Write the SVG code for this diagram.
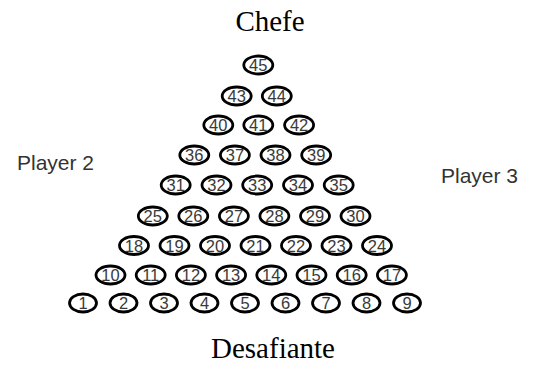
<svg xmlns="http://www.w3.org/2000/svg" width="533" height="365" viewBox="0 0 533 365">
<style>
.n ellipse{fill:#fff;stroke:#000;stroke-width:2.8}
.n text{font-family:"Liberation Sans",Arial,sans-serif;font-size:16.5px;fill:#3a3a3a;text-anchor:middle}
.t{font-family:"Liberation Serif","Times New Roman",serif;font-size:29px;fill:#000;text-anchor:middle}
.p{font-family:"Liberation Sans",Arial,sans-serif;font-size:21px;fill:#333}
</style>
<rect width="533" height="365" fill="#fff"/>
<text class="t" x="270" y="31">Chefe</text>
<text class="t" x="273" y="358">Desafiante</text>
<text class="p" x="17" y="170">Player 2</text>
<text class="p" x="441" y="183">Player 3</text>
<g id="connectors"></g>
<g id="n1" class="n"><ellipse cx="83" cy="303" rx="13.5" ry="9"/><text x="83" y="309">1</text></g>
<g id="n2" class="n"><ellipse cx="123.5" cy="303" rx="13.5" ry="9"/><text x="123.5" y="309">2</text></g>
<g id="n3" class="n"><ellipse cx="164" cy="303" rx="13.5" ry="9"/><text x="164" y="309">3</text></g>
<g id="n4" class="n"><ellipse cx="204.5" cy="303" rx="13.5" ry="9"/><text x="204.5" y="309">4</text></g>
<g id="n5" class="n"><ellipse cx="245" cy="303" rx="13.5" ry="9"/><text x="245" y="309">5</text></g>
<g id="n6" class="n"><ellipse cx="285.5" cy="303" rx="13.5" ry="9"/><text x="285.5" y="309">6</text></g>
<g id="n7" class="n"><ellipse cx="326" cy="303" rx="13.5" ry="9"/><text x="326" y="309">7</text></g>
<g id="n8" class="n"><ellipse cx="366.5" cy="303" rx="13.5" ry="9"/><text x="366.5" y="309">8</text></g>
<g id="n9" class="n"><ellipse cx="407" cy="303" rx="13.5" ry="9"/><text x="407" y="309">9</text></g>
<g id="n10" class="n"><ellipse cx="110.5" cy="275" rx="14.5" ry="9"/><text x="110.5" y="281">10</text></g>
<g id="n11" class="n"><ellipse cx="150.7" cy="275" rx="14.5" ry="9"/><text x="150.7" y="281">11</text></g>
<g id="n12" class="n"><ellipse cx="190.9" cy="275" rx="14.5" ry="9"/><text x="190.9" y="281">12</text></g>
<g id="n13" class="n"><ellipse cx="231.1" cy="275" rx="14.5" ry="9"/><text x="231.1" y="281">13</text></g>
<g id="n14" class="n"><ellipse cx="271.3" cy="275" rx="14.5" ry="9"/><text x="271.3" y="281">14</text></g>
<g id="n15" class="n"><ellipse cx="311.5" cy="275" rx="14.5" ry="9"/><text x="311.5" y="281">15</text></g>
<g id="n16" class="n"><ellipse cx="351.7" cy="275" rx="14.5" ry="9"/><text x="351.7" y="281">16</text></g>
<g id="n17" class="n"><ellipse cx="391.9" cy="275" rx="14.5" ry="9"/><text x="391.9" y="281">17</text></g>
<g id="n18" class="n"><ellipse cx="134" cy="245.5" rx="14.5" ry="9"/><text x="134" y="251.5">18</text></g>
<g id="n19" class="n"><ellipse cx="174.5" cy="245.5" rx="14.5" ry="9"/><text x="174.5" y="251.5">19</text></g>
<g id="n20" class="n"><ellipse cx="215" cy="245.5" rx="14.5" ry="9"/><text x="215" y="251.5">20</text></g>
<g id="n21" class="n"><ellipse cx="255.5" cy="245.5" rx="14.5" ry="9"/><text x="255.5" y="251.5">21</text></g>
<g id="n22" class="n"><ellipse cx="296" cy="245.5" rx="14.5" ry="9"/><text x="296" y="251.5">22</text></g>
<g id="n23" class="n"><ellipse cx="336.5" cy="245.5" rx="14.5" ry="9"/><text x="336.5" y="251.5">23</text></g>
<g id="n24" class="n"><ellipse cx="377" cy="245.5" rx="14.5" ry="9"/><text x="377" y="251.5">24</text></g>
<g id="n25" class="n"><ellipse cx="152.8" cy="216" rx="14.5" ry="9"/><text x="152.8" y="222">25</text></g>
<g id="n26" class="n"><ellipse cx="193.3" cy="216" rx="14.5" ry="9"/><text x="193.3" y="222">26</text></g>
<g id="n27" class="n"><ellipse cx="233.9" cy="216" rx="14.5" ry="9"/><text x="233.9" y="222">27</text></g>
<g id="n28" class="n"><ellipse cx="274.4" cy="216" rx="14.5" ry="9"/><text x="274.4" y="222">28</text></g>
<g id="n29" class="n"><ellipse cx="315" cy="216" rx="14.5" ry="9"/><text x="315" y="222">29</text></g>
<g id="n30" class="n"><ellipse cx="355.5" cy="216" rx="14.5" ry="9"/><text x="355.5" y="222">30</text></g>
<g id="n31" class="n"><ellipse cx="175.7" cy="185" rx="14.5" ry="9"/><text x="175.7" y="191">31</text></g>
<g id="n32" class="n"><ellipse cx="216.5" cy="185" rx="14.5" ry="9"/><text x="216.5" y="191">32</text></g>
<g id="n33" class="n"><ellipse cx="257.2" cy="185" rx="14.5" ry="9"/><text x="257.2" y="191">33</text></g>
<g id="n34" class="n"><ellipse cx="298" cy="185" rx="14.5" ry="9"/><text x="298" y="191">34</text></g>
<g id="n35" class="n"><ellipse cx="338.7" cy="185" rx="14.5" ry="9"/><text x="338.7" y="191">35</text></g>
<g id="n36" class="n"><ellipse cx="194.3" cy="155" rx="14.5" ry="9"/><text x="194.3" y="161">36</text></g>
<g id="n37" class="n"><ellipse cx="234.9" cy="155" rx="14.5" ry="9"/><text x="234.9" y="161">37</text></g>
<g id="n38" class="n"><ellipse cx="275.5" cy="155" rx="14.5" ry="9"/><text x="275.5" y="161">38</text></g>
<g id="n39" class="n"><ellipse cx="316.2" cy="155" rx="14.5" ry="9"/><text x="316.2" y="161">39</text></g>
<g id="n40" class="n"><ellipse cx="218.3" cy="125" rx="14.5" ry="9"/><text x="218.3" y="131">40</text></g>
<g id="n41" class="n"><ellipse cx="258.3" cy="125" rx="14.5" ry="9"/><text x="258.3" y="131">41</text></g>
<g id="n42" class="n"><ellipse cx="299.1" cy="125" rx="14.5" ry="9"/><text x="299.1" y="131">42</text></g>
<g id="n43" class="n"><ellipse cx="236.7" cy="96" rx="14.5" ry="9"/><text x="236.7" y="102">43</text></g>
<g id="n44" class="n"><ellipse cx="276.8" cy="96" rx="14.5" ry="9"/><text x="276.8" y="102">44</text></g>
<g id="n45" class="n"><ellipse cx="258.3" cy="65" rx="14.5" ry="9"/><text x="258.3" y="71">45</text></g>
</svg>
